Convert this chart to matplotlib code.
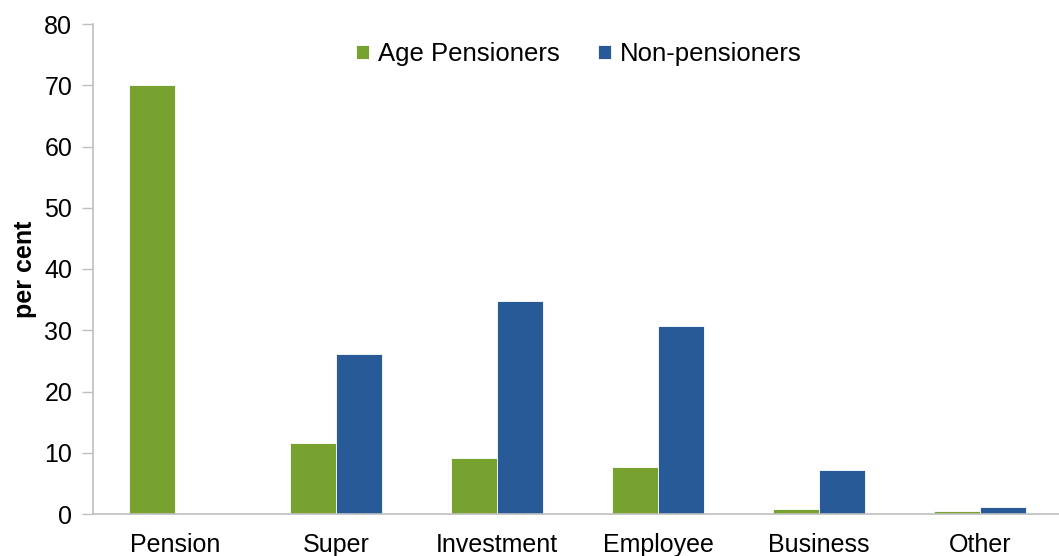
import numpy as np
import matplotlib
matplotlib.use("Agg")
import matplotlib.pyplot as plt

plt.rcParams['font.family'] = ['Liberation Sans', 'DejaVu Sans']

categories = ['Pension', 'Super', 'Investment', 'Employee', 'Business', 'Other']
age_pensioners = [70.0, 11.6, 9.1, 7.7, 0.8, 0.5]
non_pensioners = [0.0, 26.1, 34.8, 30.7, 7.2, 1.2]

green = '#78A22F'
blue = '#285A98'
grey = '#BFBFBF'

fig = plt.figure(figsize=(10.59, 5.56), dpi=100)
ax = fig.add_axes([93 / 1059, 1 - 514 / 556, 1 - 93 / 1059, (514 - 24) / 556])

x = np.arange(len(categories))
w = 0.286
ax.bar(x - w / 2, age_pensioners, w, color=green, edgecolor='white', linewidth=0.6,
       label='Age Pensioners')
ax.bar(x + w / 2, non_pensioners, w, color=blue, edgecolor='white', linewidth=0.6,
       label='Non-pensioners')

ax.set_xlim(-0.51, 5.49)
ax.set_ylim(0, 80)
ax.set_yticks(np.arange(0, 81, 10))
ax.set_xticks(x)
ax.set_xticklabels(categories)
ax.tick_params(axis='y', direction='out', length=8, width=1, color=grey, labelsize=18, pad=7)
ax.tick_params(axis='x', length=0, labelsize=18, pad=14)

for s in ['top', 'right']:
    ax.spines[s].set_visible(False)
for s in ['left', 'bottom']:
    ax.spines[s].set_color(grey)
    ax.spines[s].set_linewidth(1.2)
ax.spines['bottom'].set_zorder(3)

ax.set_ylabel('per cent', fontsize=18, fontweight='bold', labelpad=5)

fig.legend(loc='center', bbox_to_anchor=(579 / 1059, 1 - 54 / 556), ncol=2,
           frameon=False, fontsize=18.5, handlelength=0.5, handleheight=0.5,
           handletextpad=0.35, columnspacing=1.5)

fig.savefig('out.png', dpi=100)
